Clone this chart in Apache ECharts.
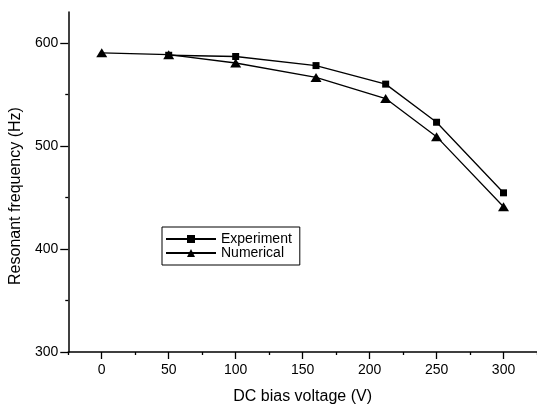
<!DOCTYPE html>
<html>
<head>
<meta charset="utf-8">
<script src="https://cdn.jsdelivr.net/npm/echarts@6/dist/echarts.min.js"></script>
<style>html,body{margin:0;padding:0;background:#fff}#c{width:537px;height:410px}</style>
</head>
<body>
<div id="c"></div>
<script>
const voltage = [0, 50, 100, 160, 212, 250, 300];
const experiment = [null, 588, 586.8, 578, 560, 523, 454.5];
const numerical = [590.4, 588.6, 580.5, 566.5, 546, 509, 441];
const xMajorTicks = [0, 50, 100, 150, 200, 250, 300];
const xMinorTicks = [-25, 25, 75, 125, 175, 225, 275, 325];
const yMajorTicks = [300, 400, 500, 600];
const yMinorTicks = [350, 450, 550];

const FONT = '"Liberation Sans", Arial, Helvetica, sans-serif';
const chart = echarts.init(document.getElementById('c'), null, {renderer: 'canvas'});
const axisLine = {show: true, onZero: false, lineStyle: {color: '#000', width: 1.5}};
chart.setOption({
  animation: false,
  backgroundColor: '#fff',
  textStyle: {fontFamily: FONT, color: '#000'},
  grid: {left: 68, top: 12, right: -3, bottom: 55, containLabel: false},
  legend: {
    left: 162, top: 227, orient: 'vertical',
    data: ['Experiment', 'Numerical'],
    itemWidth: 50, itemHeight: 10, itemGap: 0,
    padding: [5, 8, 5, 3],
    borderColor: '#000', borderWidth: 1, borderRadius: 0,
    textStyle: {fontFamily: FONT, fontSize: 14, color: '#000', lineHeight: 13}
  },
  xAxis: [{
    type: 'value', min: -25, max: 325, interval: 25,
    name: 'DC bias voltage (V)', nameLocation: 'middle', nameGap: 37,
    nameTextStyle: {fontFamily: FONT, fontSize: 16, color: '#000'},
    axisLine: axisLine,
    axisTick: {show: true, inside: false, length: 7, customValues: xMajorTicks, lineStyle: {color: '#000', width: 1.3}},
    axisLabel: {fontFamily: FONT, fontSize: 14, color: '#000', margin: 11, customValues: xMajorTicks},
    splitLine: {show: false}
  }, {
    type: 'value', min: -25, max: 325, position: 'bottom',
    axisLine: {show: false, onZero: false},
    axisTick: {show: true, length: 3, customValues: xMinorTicks, lineStyle: {color: '#000', width: 1.3}},
    axisLabel: {show: false},
    splitLine: {show: false}
  }],
  yAxis: [{
    type: 'value', min: 300, max: 630, interval: 100,
    name: 'Resonant frequency (Hz)', nameLocation: 'middle', nameGap: 41,
    nameTextStyle: {fontFamily: FONT, fontSize: 16, color: '#000', padding: [0, 28, 0, 0]},
    axisLine: axisLine,
    axisTick: {show: true, inside: false, length: 8, customValues: yMajorTicks, lineStyle: {color: '#000', width: 1.3}},
    axisLabel: {fontFamily: FONT, fontSize: 14, color: '#000', margin: 10, customValues: yMajorTicks},
    splitLine: {show: false}
  }, {
    type: 'value', min: 300, max: 630, position: 'left',
    axisLine: {show: false, onZero: false},
    axisTick: {show: true, length: 3, customValues: yMinorTicks, lineStyle: {color: '#000', width: 1.3}},
    axisLabel: {show: false},
    splitLine: {show: false}
  }],
  series: [{
    name: 'Experiment', type: 'line',
    data: voltage.map((v, i) => [v, experiment[i]]),
    symbol: 'rect', symbolSize: 7,
    lineStyle: {color: '#000', width: 1.3},
    itemStyle: {color: '#000'}
  }, {
    name: 'Numerical', type: 'line',
    data: voltage.map((v, i) => [v, numerical[i]]),
    symbol: 'triangle', symbolSize: [11, 9],
    lineStyle: {color: '#000', width: 1.3},
    itemStyle: {color: '#000'}
  }]
});
</script>
</body>
</html>
